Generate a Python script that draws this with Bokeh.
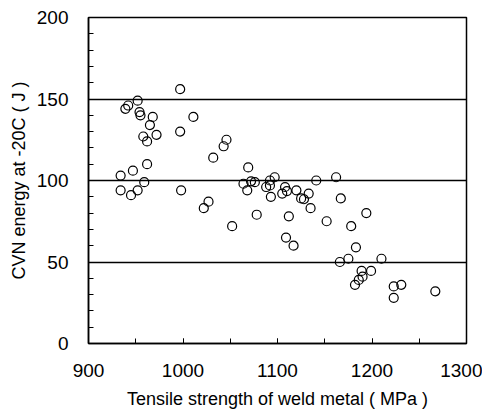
from bokeh.plotting import figure
from bokeh.models import SingleIntervalTicker, FixedTicker, Range1d, ColumnDataSource
from bokeh.embed import file_html
from bokeh.resources import INLINE

# Tensile strength (MPa)
tensile = [997, 952, 942, 939, 954, 955, 968, 1011, 965, 997,
           958, 972, 962, 1046, 1043, 1032, 962, 1069, 947, 934,
           934, 945, 952, 959, 998, 1022, 1027, 1052, 1064, 1068,
           1072, 1076, 1078, 1088, 1092, 1092, 1097, 1093, 1108, 1105,
           1110, 1120, 1125, 1128, 1133, 1135, 1141, 1162, 1167, 1112,
           1152, 1178, 1194, 1109, 1117, 1183, 1166, 1175, 1210, 1189,
           1199, 1190, 1186, 1182, 1223, 1231, 1223, 1267]
# CVN energy at -20C (J)
cvn = [156, 149, 146, 144, 142, 140, 139, 139, 134, 130,
       127, 128, 124, 125, 121, 114, 110, 108, 106, 103,
       94, 91, 94, 99, 94, 83, 87, 72, 98, 94,
       99.5, 99, 79, 96, 97, 100, 102, 90, 96, 92,
       93.5, 94, 89, 88.5, 92, 83, 100, 102, 89, 78,
       75, 72, 80, 65, 60, 59, 50, 52, 52, 44.5,
       44.5, 41, 39, 36, 35, 36, 28, 32]

x_range = (900, 1300)
y_range = (0, 200)
ref_lines = [50, 100, 150]

FONT = "Liberation Sans"

p = figure(width=482, height=411, output_backend="svg", toolbar_location=None,
           x_range=Range1d(*x_range), y_range=Range1d(*y_range),
           min_border_left=88, min_border_right=16, min_border_top=17, min_border_bottom=67)

p.background_fill_color = "white"
p.border_fill_color = "white"
p.outline_line_color = "black"
p.outline_line_width = 1.5

src = ColumnDataSource(dict(x=tensile, y=cvn))
p.scatter("x", "y", source=src, marker="circle", size=9, fill_color=None,
          line_color="black", line_width=1.2)

p.xaxis.ticker = SingleIntervalTicker(interval=100, num_minor_ticks=2)
p.yaxis.ticker = SingleIntervalTicker(interval=50, num_minor_ticks=5)

p.xgrid.visible = False
p.ygrid.ticker = FixedTicker(ticks=ref_lines)
p.ygrid.grid_line_color = "black"
p.ygrid.grid_line_width = 1.5

for ax in (p.xaxis, p.yaxis):
    ax.axis_line_color = "black"
    ax.axis_line_width = 1.5
    ax.major_tick_in = 5
    ax.major_tick_out = 0
    ax.minor_tick_in = 5
    ax.minor_tick_out = 0
    ax.major_tick_line_color = "black"
    ax.minor_tick_line_color = "black"
    ax.major_label_text_font = FONT
    ax.major_label_text_font_size = "19px"
    ax.major_label_text_color = "black"
    ax.axis_label_text_font = FONT
    ax.axis_label_text_font_size = "18px"
    ax.axis_label_text_font_style = "normal"
    ax.axis_label_text_color = "black"

p.xaxis.axis_label = "Tensile strength of weld metal ( MPa )"
p.yaxis.axis_label = "CVN energy at -20C ( J )"
p.xaxis.major_label_standoff = 20
p.yaxis.major_label_standoff = 20
p.xaxis.axis_label_standoff = 9
p.yaxis.axis_label_standoff = 5

open("out.html", "w").write(file_html(p, INLINE))
